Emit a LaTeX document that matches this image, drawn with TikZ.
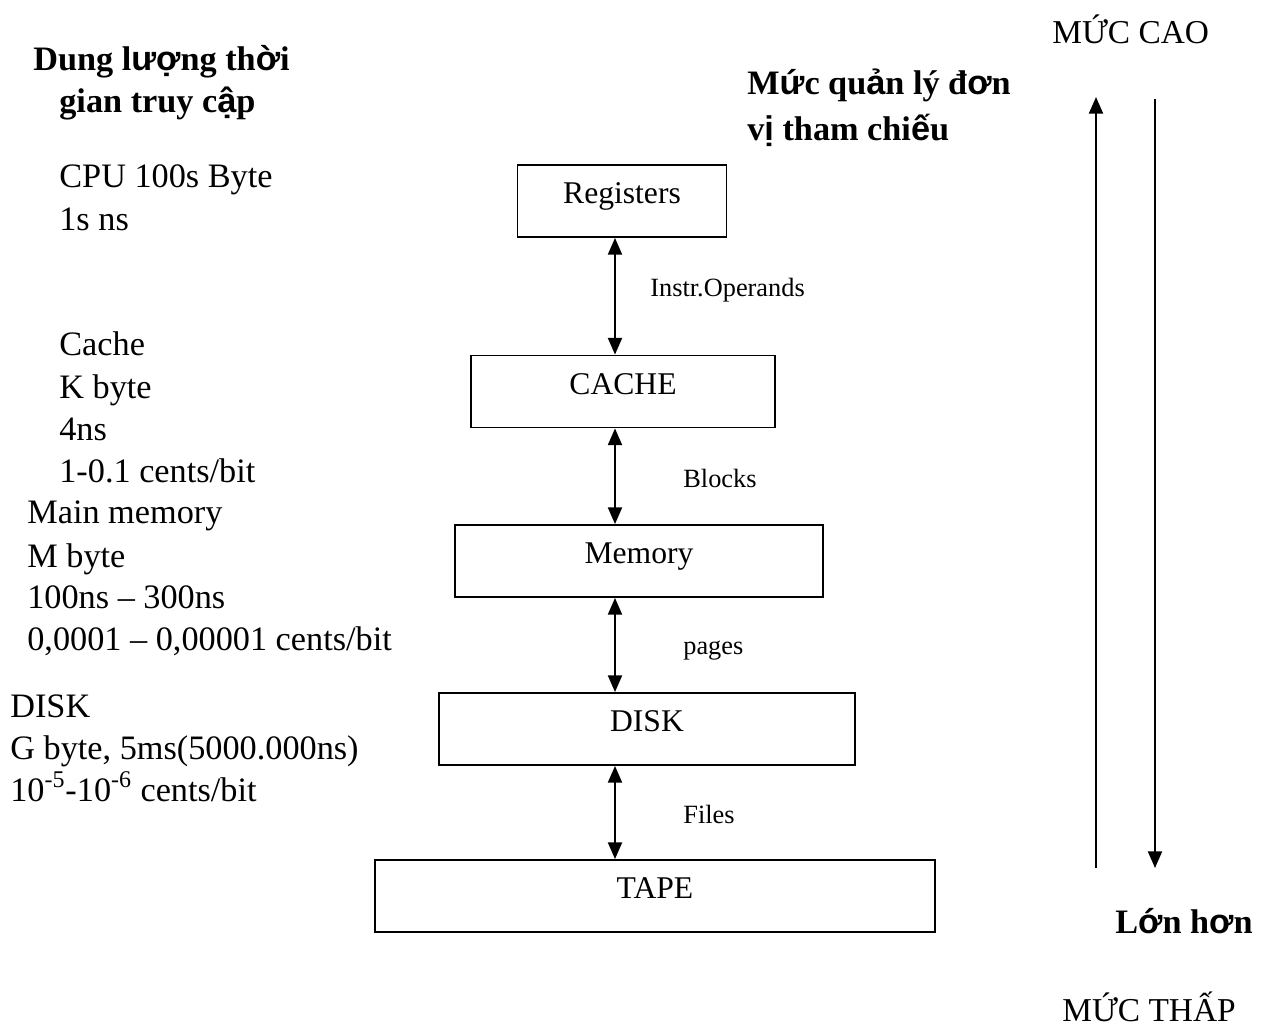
\documentclass[tikz,border=0pt]{standalone}
\usepackage{fontspec}
\setmainfont{Liberation Serif}
\newfontfamily\arialfb{Liberation Sans}
\newcommand{\fb}[1]{{\arialfb #1}}
\usetikzlibrary{arrows.meta,positioning}

\begin{document}
\begin{tikzpicture}[
  x=0.02cm, y=-0.02cm,
  every node/.style={inner sep=0pt, anchor=base west},
  side/.style={font=\fontsize{19.5}{24}\selectfont},
  head/.style={font=\fontsize{19.5}{24}\selectfont\bfseries},
  lvlname/.style={font=\fontsize{19}{23}\selectfont},
  level/.style={draw, line width=1.1pt, anchor=center, minimum height=1.44cm,
                text height=0.65em, text depth=0.36em,
                font=\fontsize{18}{22}\selectfont},
  unit/.style={font=\fontsize{15}{18}\selectfont},
  dbl/.style={{Triangle[length=9.5pt,width=8pt]}-{Triangle[length=9.5pt,width=8pt]},
              line width=1.1pt},
  oneway/.style={-{Triangle[length=9.5pt,width=8pt]}, line width=1.1pt},
]
\useasboundingbox (0,0) rectangle (1261,1032);

%% -- Memory levels ---------------------------------------------------------
\node[level, minimum width=4.18cm]  (reg)   at (622,201)   {Registers};
\node[level, minimum width=6.08cm]  (cache) at (623,391.5) {CACHE};
\node[level, minimum width=7.36cm]  (mem)   at (639,561)   {Memory};
\node[level, minimum width=8.32cm]  (disk)  at (647,729)   {DISK};
\node[level, minimum width=11.2cm]  (tape)  at (655,896)   {TAPE};

%% -- Transfer units between levels ----------------------------------------
\coordinate (axis) at (615,0);
\foreach \up/\dn/\txt/\lx/\ly [count=\i] in {
  reg/cache/Instr.Operands/650/296,
  cache/mem/Blocks/683/487,
  mem/disk/pages/683/654,
  disk/tape/Files/683/823} {
  \draw[dbl] (\up.south -| axis) -- (\dn.north -| axis);
  \node[unit] (link\i) at (\lx,\ly) {\txt};
}

%% -- Capacity / access time column ----------------------------------------
\node[head] (caphead1) at (33,70)  {Dung l\fb{ượ}ng th\fb{ờ}i};
\node[head] (caphead2) at (59,112) {gian truy c\fb{ậ}p};

\node[side] (cpu1) at (59,187) {CPU 100s Byte};
\node[side] (cpu2) at (59,230) {1s ns};

\node[side] (cache1) at (59,355) {Cache};
\node[side] (cache2) at (59,398) {K byte};
\node[side] (cache3) at (59,440) {4ns};
\node[side] (cache4) at (59,482) {1-0.1 cents/bit};

\node[side] (mem1) at (27,523) {Main memory};
\node[side] (mem2) at (27,567) {M byte};
\node[side] (mem3) at (27,608) {100ns – 300ns};
\node[side] (mem4) at (27,650) {0,0001 – 0,00001 cents/bit};

\node[side] (disk1) at (10,717) {DISK};
\node[side] (disk2) at (10,759) {G byte, 5ms(5000.000ns)};
\node[side] (disk3) at (10,801) {10\textsuperscript{-5}-10\textsuperscript{-6} cents/bit};

%% -- Management level column ----------------------------------------------
\node[head] (mgmt1) at (747,94)  {M\fb{ứ}c qu\fb{ả}n lý đ\fb{ơ}n};
\node[head] (mgmt2) at (747,140) {v\fb{ị} tham chi\fb{ế}u};

\node[lvlname] (high) at (1052,43)   {MỨC CAO};
\node[lvlname] (low)  at (1062,1021) {MỨC THẤP};
\node[head]    (big)  at (1115,933)  {L\fb{ớ}n h\fb{ơ}n};

\coordinate (upbot) at (1096,868);
\coordinate (uptop) at (1096,97);
\coordinate (dntop) at (1155,99);
\coordinate (dnbot) at (1155,868);
\draw[oneway] (upbot) -- (uptop);
\draw[oneway] (dntop) -- (dnbot);

\end{tikzpicture}
\end{document}
